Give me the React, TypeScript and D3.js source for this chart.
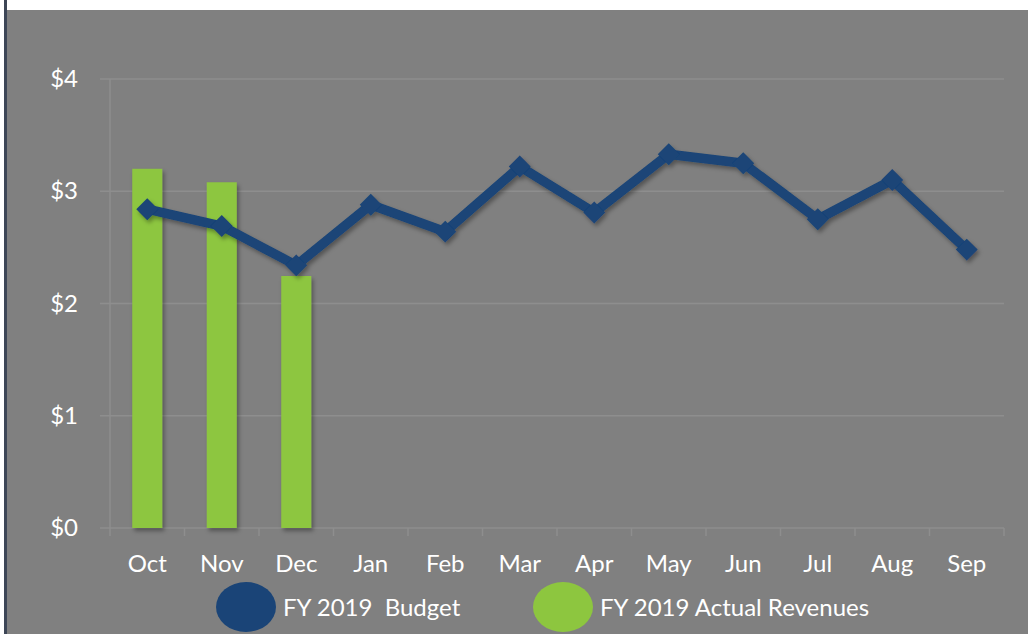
import React from "react";
import * as d3 from "d3";

const months = ["Oct", "Nov", "Dec", "Jan", "Feb", "Mar", "Apr", "May", "Jun", "Jul", "Aug", "Sep"];
const budget = [2.84, 2.69, 2.34, 2.88, 2.64, 3.22, 2.81, 3.33, 3.25, 2.75, 3.1, 2.48];
const actualMonths = ["Oct", "Nov", "Dec"];
const actual = [3.2, 3.08, 2.245];
const yTicks = [0, 1, 2, 3, 4];
const legendItems = ["FY 2019  Budget", "FY 2019 Actual Revenues"];

const W = 1028;
const H = 634;
const BG = "#808080";
const BLUE = "#1a4477";
const GREEN = "#8dc63f";
const FONT = "Lato, 'Open Sans', sans-serif";
const FS = 24;

export default function App() {
  const x = d3.scaleBand<string>().domain(months).range([110, 1004]).paddingInner(0).paddingOuter(0);
  const y = d3.scaleLinear().domain([0, 4]).range([528, 79]);
  const cx = (m: string) => (x(m) as number) + x.bandwidth() / 2;
  const barW = 30;
  const line = d3
    .line<number>()
    .x((_, i) => cx(months[i]))
    .y((d) => y(d));
  const diamond = d3.symbol().type(d3.symbolSquare).size(240)();

  return (
    <svg width={W} height={H} style={{ position: "absolute", left: 0, top: 0, display: "block" }}>
      <defs>
        <filter id="sh" x="-20%" y="-20%" width="140%" height="140%">
          <feDropShadow dx="2" dy="3" stdDeviation="2" floodColor="#000" floodOpacity="0.35" />
        </filter>
      </defs>
      <rect x={0} y={0} width={W} height={H} fill="#ffffff" />
      <rect x={4} y={10} width={W - 4} height={H - 10} fill={BG} />
      <rect x={4} y={0} width={3} height={H} fill="#3d4656" />

      {yTicks.slice(1).map((t) => (
        <line key={t} x1={100} x2={1004} y1={y(t)} y2={y(t)} stroke="#8e8e8e" strokeWidth={1.5} />
      ))}
      <line x1={110} x2={110} y1={y(4)} y2={y(0)} stroke="#8e8e8e" strokeWidth={1.5} />
      <line x1={100} x2={1004} y1={y(0)} y2={y(0)} stroke="#8e8e8e" strokeWidth={1.5} />
      {months.map((m) => (
        <line key={m} x1={x(m) as number} x2={x(m) as number} y1={y(0)} y2={y(0) + 8} stroke="#8e8e8e" strokeWidth={1.5} />
      ))}
      <line x1={1004} x2={1004} y1={y(0)} y2={y(0) + 8} stroke="#8e8e8e" strokeWidth={1.5} />

      {yTicks.map((t) => (
        <text key={t} x={78} y={y(t) + 8} fill="#fff" fontFamily={FONT} fontSize={FS} textAnchor="end">
          ${t}
        </text>
      ))}
      {months.map((m) => (
        <text key={m} x={cx(m)} y={572} fill="#fff" fontFamily={FONT} fontSize={FS} textAnchor="middle">
          {m}
        </text>
      ))}

      <g filter="url(#sh)">
        {actual.map((v, i) => (
          <rect key={i} x={cx(actualMonths[i]) - barW / 2} y={y(v)} width={barW} height={y(0) - y(v)} fill={GREEN} />
        ))}
      </g>

      <g filter="url(#sh)">
        <path d={line(budget) || ""} fill="none" stroke={BLUE} strokeWidth={9.5} strokeLinejoin="round" />
        {budget.map((v, i) => (
          <path key={i} d={diamond || ""} transform={`translate(${cx(months[i])},${y(v)}) rotate(45)`} fill={BLUE} />
        ))}
      </g>

      <ellipse cx={246} cy={607} rx={30} ry={25} fill={BLUE} />
      <text x={283} y={616} fill="#fff" fontFamily={FONT} fontSize={FS} style={{ whiteSpace: "pre" }}>
        {legendItems[0]}
      </text>
      <ellipse cx={563} cy={607} rx={30} ry={25} fill={GREEN} />
      <text x={600} y={616} fill="#fff" fontFamily={FONT} fontSize={FS}>
        {legendItems[1]}
      </text>
    </svg>
  );
}
